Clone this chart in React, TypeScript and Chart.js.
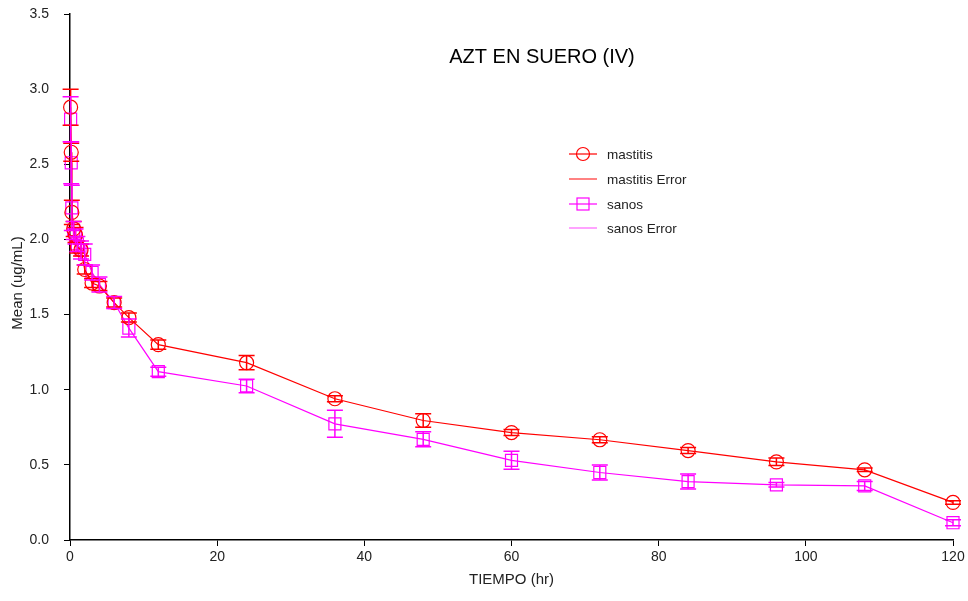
import React, { useEffect, useRef } from "react";
import { Chart, registerables } from "chart.js";

Chart.register(...registerables);

const times = [0.083, 0.167, 0.25, 0.5, 0.75, 1, 1.5, 2, 3, 4, 6, 8, 12, 24, 36, 48, 60, 72, 84, 96, 108, 120];
const mastitisMean = [2.88, 2.58, 2.18, 2.07, 2.03, 1.95, 1.93, 1.8, 1.71, 1.69, 1.58, 1.48, 1.3, 1.18, 0.94, 0.795, 0.715, 0.667, 0.595, 0.52, 0.467, 0.25];
const mastitisErr = [0.12, 0.06, 0.08, 0.05, 0.05, 0.04, 0.04, 0.03, 0.03, 0.03, 0.03, 0.03, 0.03, 0.047, 0.02, 0.045, 0.02, 0.02, 0.02, 0.025, 0.012, 0.012];
const sanosMean = [2.8, 2.51, 2.21, 2.06, 2.02, 1.97, 1.93, 1.9, 1.78, 1.7, 1.58, 1.41, 1.12, 1.025, 0.773, 0.67, 0.53, 0.449, 0.389, 0.367, 0.36, 0.115];
const sanosErr = [0.15, 0.14, 0.15, 0.06, 0.05, 0.05, 0.06, 0.07, 0.05, 0.05, 0.04, 0.06, 0.03, 0.045, 0.09, 0.05, 0.06, 0.05, 0.05, 0.015, 0.03, 0.02];

const xTicks = [0, 20, 40, 60, 80, 100, 120];
const yTicks = [0, 0.5, 1, 1.5, 2, 2.5, 3, 3.5];
const seriesNames = ["mastitis", "mastitis Error", "sanos", "sanos Error"];
const chartTitle = "AZT EN SUERO (IV)";
const xTitle = "TIEMPO (hr)";
const yTitle = "Mean (ug/mL)";

const RED = "#ff0000";
const MAG = "#ff00ff";
const FONT = "'Liberation Sans', Arial, sans-serif";

const errorBarPlugin = {
  id: "errorBars",
  afterDatasetsDraw(chart: any) {
    const { ctx, scales } = chart;
    const sets = [
      { mean: mastitisMean, err: mastitisErr, color: RED },
      { mean: sanosMean, err: sanosErr, color: MAG },
    ];
    ctx.save();
    ctx.lineWidth = 1.5;
    sets.forEach((s) => {
      ctx.strokeStyle = s.color;
      times.forEach((t, i) => {
        const x = scales.x.getPixelForValue(t);
        const y1 = scales.y.getPixelForValue(s.mean[i] + s.err[i]);
        const y2 = scales.y.getPixelForValue(s.mean[i] - s.err[i]);
        ctx.beginPath();
        ctx.moveTo(x, y1);
        ctx.lineTo(x, y2);
        ctx.moveTo(x - 8, y1);
        ctx.lineTo(x + 8, y1);
        ctx.moveTo(x - 8, y2);
        ctx.lineTo(x + 8, y2);
        ctx.stroke();
      });
    });
    ctx.restore();
  },
};

const annotPlugin = {
  id: "annot",
  afterDraw(chart: any) {
    const { ctx, chartArea } = chart;
    ctx.save();
    ctx.fillStyle = "#000";
    ctx.font = `20px ${FONT}`;
    ctx.textAlign = "center";
    ctx.textBaseline = "middle";
    ctx.fillText(chartTitle, 542, 57);

    ctx.fillStyle = "#222";
    ctx.font = `15px ${FONT}`;
    ctx.fillText(xTitle, (chartArea.left + chartArea.right) / 2, 580);
    ctx.save();
    ctx.translate(18, 283);
    ctx.rotate(-Math.PI / 2);
    ctx.fillText(yTitle, 0, 0);
    ctx.restore();

    const rows = [154, 179, 204, 228];
    const colors = [RED, "#ff3030", MAG, "#ff66ff"];
    ctx.font = `13.5px ${FONT}`;
    ctx.textAlign = "left";
    rows.forEach((y, i) => {
      ctx.strokeStyle = colors[i];
      ctx.lineWidth = 1.2;
      ctx.beginPath();
      ctx.moveTo(569, y);
      ctx.lineTo(597, y);
      ctx.stroke();
      if (i === 0) {
        ctx.beginPath();
        ctx.arc(583, y, 6.5, 0, Math.PI * 2);
        ctx.stroke();
      } else if (i === 2) {
        ctx.strokeRect(577, y - 6, 12, 12);
      }
      ctx.fillStyle = "#222";
      ctx.fillText(seriesNames[i], 607, y + 1);
    });
    ctx.restore();
  },
};

export default function App() {
  const ref = useRef<HTMLCanvasElement>(null);
  useEffect(() => {
    document.body.style.margin = "0";
    const chart = new Chart(ref.current as HTMLCanvasElement, {
      type: "line",
      data: {
        datasets: [
          {
            label: seriesNames[0],
            data: times.map((t, i) => ({ x: t, y: mastitisMean[i] })),
            borderColor: RED,
            borderWidth: 1.2,
            pointStyle: "circle",
            pointRadius: 7,
            pointBorderColor: RED,
            pointBackgroundColor: "rgba(0,0,0,0)",
            pointBorderWidth: 1.2,
            tension: 0,
            clip: false,
          },
          {
            label: seriesNames[2],
            data: times.map((t, i) => ({ x: t, y: sanosMean[i] })),
            borderColor: MAG,
            borderWidth: 1.2,
            pointStyle: "rect",
            pointRadius: 8.5,
            pointBorderColor: MAG,
            pointBackgroundColor: "rgba(0,0,0,0)",
            pointBorderWidth: 1.2,
            tension: 0,
            clip: false,
          },
        ],
      },
      options: {
        animation: false,
        responsive: false,
        layout: { padding: { top: 14, right: 15, left: 0, bottom: 0 } },
        plugins: { legend: { display: false }, tooltip: { enabled: false } },
        scales: {
          x: {
            type: "linear",
            min: 0,
            max: 120,
            afterBuildTicks: (s: any) => {
              s.ticks = xTicks.map((v) => ({ value: v }));
            },
            afterFit: (s: any) => {
              s.height = 61;
              s.paddingLeft = 0;
              s.paddingRight = 0;
            },
            border: { color: "#000", width: 1.5 },
            grid: { drawOnChartArea: false, color: "#000", tickLength: 6 },
            ticks: { color: "#222", font: { family: FONT, size: 14 }, padding: 3, maxRotation: 0 },
          },
          y: {
            type: "linear",
            min: 0,
            max: 3.5,
            afterBuildTicks: (s: any) => {
              s.ticks = yTicks.map((v) => ({ value: v }));
            },
            afterFit: (s: any) => {
              s.width = 70;
              s.paddingTop = 0;
              s.paddingBottom = 0;
            },
            border: { color: "#000", width: 1.5 },
            grid: { drawOnChartArea: false, color: "#000", tickLength: 6 },
            ticks: { color: "#222", font: { family: FONT, size: 14 }, padding: 15, callback: (v: any) => Number(v).toFixed(1) },
          },
        },
      },
      plugins: [errorBarPlugin, annotPlugin],
    } as any);
    return () => chart.destroy();
  }, []);
  return (
    <div style={{ width: 968, height: 601 }}>
      <canvas ref={ref} width={968} height={601} style={{ display: "block" }} />
    </div>
  );
}
